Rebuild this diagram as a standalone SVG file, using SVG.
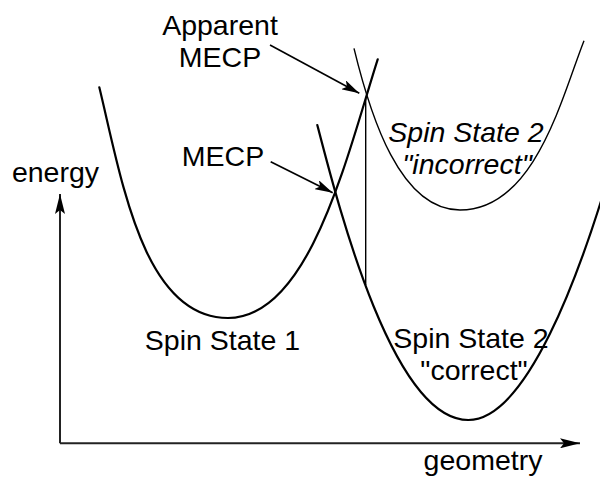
<svg xmlns="http://www.w3.org/2000/svg" width="600" height="477" viewBox="0 0 600 477">
<style>
  .lbl { font-family: "Liberation Sans", Arial, sans-serif; font-size: 28.5px; fill: #000; }
  .it { font-style: italic; }
  .curve { fill: none; stroke: #000; stroke-width: 2.2; stroke-linecap: round; }
  .thin { fill: none; stroke: #000; stroke-width: 1.4; }
  .arr { fill: none; stroke: #000; stroke-width: 1.6; }
  .axis { fill: none; stroke: #222; stroke-width: 2; }
</style>
<defs>
  <marker id="ah" viewBox="0 0 18 10" refX="18" refY="5" markerWidth="18" markerHeight="10" markerUnits="userSpaceOnUse" orient="auto">
    <path d="M0,0 L18,5 L0,10 L4,5 z" fill="#000"/>
  </marker>
  <marker id="axh" viewBox="0 0 20 10" refX="20" refY="5" markerWidth="20" markerHeight="10" markerUnits="userSpaceOnUse" orient="auto">
    <path d="M0,0 L20,5 L0,10 L4,5 z" fill="#000"/>
  </marker>
</defs>

<g id="axes">
  <path class="axis" d="M60,443.3 V194" marker-end="url(#axh)"/>
  <path class="axis" d="M60,443.3 H580" marker-end="url(#axh)"/>
  <text class="lbl" x="55.5" y="182" text-anchor="middle">energy</text>
  <text class="lbl" x="483" y="470" text-anchor="middle">geometry</text>
</g>

<g id="spin-state-1">
  <path class="curve" d="M99.3,87.3 C121.7,179.5 143,318 228,318 C310,318 347.3,154.6 377.7,59.3"/>
  <text class="lbl" x="222.5" y="350" text-anchor="middle">Spin State 1</text>
</g>

<g id="spin-state-2-incorrect">
  <path class="thin" d="M354,48.3 C370.5,116.3 400,210 460,210 C535,210 562,96.5 584,40.7"/>
  <text class="lbl it" x="466" y="141.7" text-anchor="middle">Spin State 2</text>
  <text class="lbl it" x="467" y="174" text-anchor="middle">"incorrect"</text>
</g>

<g id="spin-state-2-correct">
  <path class="curve" d="M317.3,125 C339.9,212.1 393.3,420 468.3,420 C528.3,420 581.1,264.9 602,198"/>
  <text class="lbl" x="471" y="348" text-anchor="middle">Spin State 2</text>
  <text class="lbl" x="474" y="380" text-anchor="middle">"correct"</text>
</g>

<g id="apparent-mecp">
  <text class="lbl" x="220" y="35" text-anchor="middle">Apparent</text>
  <text class="lbl" x="220" y="67" text-anchor="middle">MECP</text>
</g>

<g id="mecp">
  <text class="lbl" x="223" y="166" text-anchor="middle">MECP</text>
</g>

<g id="connectors">
  <path class="thin" d="M365.7,97 V285"/>
  <path class="arr" d="M270,45 L359.3,93.3" marker-end="url(#ah)"/>
  <path class="arr" d="M270.7,161.7 L332.7,192.7" marker-end="url(#ah)"/>
</g>
</svg>
